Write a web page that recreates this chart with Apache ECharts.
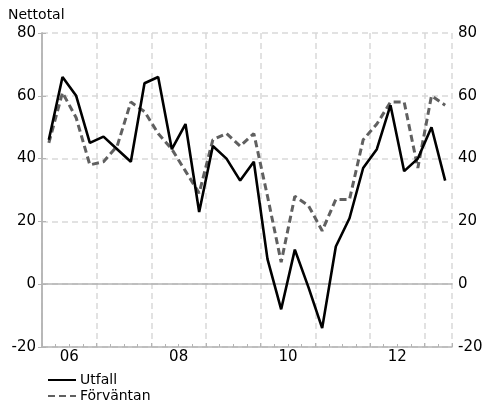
<!DOCTYPE html>
<html>
<head>
<meta charset="utf-8">
<script src="https://cdn.jsdelivr.net/npm/echarts@6/dist/echarts.min.js"></script>
<style>html,body{margin:0;padding:0;background:#fff}#c{width:490px;height:408px}</style>
</head>
<body>
<div id="c"></div>
<script>
// Quarterly data, 2006 Q1 .. 2013 Q2
var startYear = 2006;
var utfall = [46,66,60,45,47,43,39,64,66,43,51,23,44,40,33,39,8,-8,11,-1,-14,12,21,37,43,57,36,40,50,33];
var forvantan = [45,61,53,38,39,44,58,55,48,43,36,29,46,48,44,48,28,7,28,25,17,27,27,46,51,58,58,37,60,57];
var yearLabels = ['06','08','10','12'];
var labelYears = [2006,2008,2010,2012];
var yTicks = [-20,0,20,40,60,80];

var FONT = 'DejaVu Sans';
var nQ = utfall.length;
function toPairs(arr){ return arr.map(function(v,i){ return [i+0.5, v]; }); }
var labelMap = {};
labelYears.forEach(function(y,k){ labelMap[(y-startYear)*4+2] = yearLabels[k]; });

var chart = echarts.init(document.getElementById('c'), null, {renderer:'canvas'});
var axisGray = '#b4b4b4';
var gridGray = '#d9d9d9';
chart.setOption({
  animation:false,
  textStyle:{fontFamily:FONT},
  title:{text:'Nettotal', left:8, top:8, padding:0, textStyle:{fontFamily:FONT, fontSize:14, fontWeight:'normal', color:'#000'}},
  grid:{left:42, right:38, top:33, bottom:61, containLabel:false},
  legend:{
    orient:'vertical', left:47, top:373, padding:0, itemGap:2, itemWidth:28, itemHeight:15, height:40,
    itemStyle:{opacity:0},
    textStyle:{fontFamily:FONT, fontSize:14, color:'#000', padding:[0,0,0,-1]},
    data:['Utfall','Förväntan']
  },
  xAxis:[
    {type:'value', min:0, max:nQ, interval:4, position:'bottom',
     axisLine:{show:true, onZero:false, lineStyle:{color:axisGray, width:1.5}},
     axisTick:{show:true, inside:true, length:4, lineStyle:{color:axisGray}},
     minorTick:{show:true, splitNumber:4, length:3, lineStyle:{color:axisGray}},
     axisLabel:{show:false},
     splitLine:{show:true, lineStyle:{color:gridGray, type:[6,4], width:1.5}}},
    {type:'value', min:0, max:nQ, interval:2, position:'bottom',
     axisLine:{show:false}, axisTick:{show:false}, splitLine:{show:false},
     axisLabel:{show:true, margin:3, fontFamily:FONT, fontSize:15, color:'#000',
       formatter:function(v){ return labelMap[v] || ''; }}},
    {type:'value', min:0, max:nQ, position:'bottom',
     axisLine:{show:true, onZero:true, onZeroAxisIndex:0, lineStyle:{color:axisGray, width:1.5}},
     axisTick:{show:false}, axisLabel:{show:false}, splitLine:{show:false}}
  ],
  yAxis:[
    {type:'value', min:yTicks[0], max:yTicks[yTicks.length-1], interval:20, position:'left',
     axisLine:{show:true, lineStyle:{color:axisGray, width:1.5}},
     axisTick:{show:true, length:4, lineStyle:{color:axisGray}},
     axisLabel:{margin:6, fontFamily:FONT, fontSize:15, color:'#000'},
     splitLine:{show:true, lineStyle:{color:gridGray, type:[6,4], width:1.5}}},
    {type:'value', min:yTicks[0], max:yTicks[yTicks.length-1], interval:20, position:'right',
     axisLine:{show:true, lineStyle:{color:axisGray, width:1.5}},
     axisTick:{show:true, length:4, lineStyle:{color:axisGray}},
     axisLabel:{margin:6, fontFamily:FONT, fontSize:15, color:'#000'},
     splitLine:{show:false}}
  ],
  series:[
    {name:'Förväntan', type:'line', xAxisIndex:0, yAxisIndex:0, data:toPairs(forvantan),
     symbol:'none', lineStyle:{color:'#606060', width:3, type:[7,4]}, itemStyle:{color:'#606060'}, z:3},
    {name:'Utfall', type:'line', xAxisIndex:0, yAxisIndex:0, data:toPairs(utfall),
     symbol:'none', lineStyle:{color:'#000', width:2.6}, itemStyle:{color:'#000'}, z:4}
  ]
});
</script>
</body>
</html>
